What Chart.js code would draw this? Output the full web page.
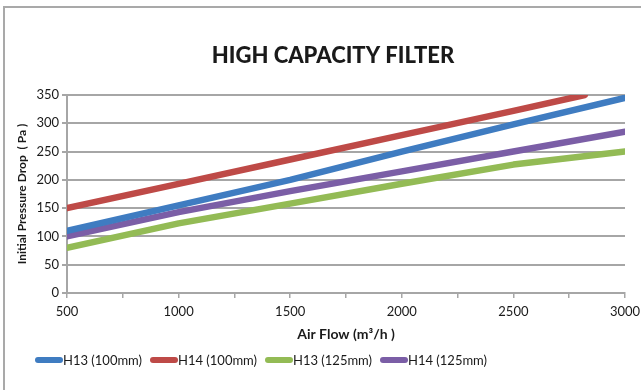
<!DOCTYPE html>
<html>
<head>
<meta charset="utf-8">
<script src="https://cdn.jsdelivr.net/npm/chart.js@4.4.1/dist/chart.umd.min.js"></script>
<style>
  html, body { margin: 0; padding: 0; background: #fff; overflow: hidden; }
  #frame { position: absolute; left: 3px; top: 6px; width: 700px; height: 500px;
           border-left: 2px solid #a9a9a9; border-top: 2px solid #a9a9a9; }
  #wrap { position: absolute; left: 0; top: 0; width: 641px; height: 390px; }
</style>
</head>
<body>
<div id="frame"></div>
<div id="wrap"><canvas id="filter-chart" width="641" height="390"></canvas></div>
<script>
// air flow (m3/h) and initial pressure drop (Pa)
const flow = [500, 1000, 1500, 2000, 2500, 3000];
const flowH14_100 = [500, 1000, 1500, 2000, 2500, 2820];
const h13_100 = [110, 155, 200, 250, 298, 345];
const h14_100 = [150, 193, 236, 279, 322, 350];
const h13_125 = [80, 123, 158, 193, 227, 250];
const h14_125 = [100, 143, 180, 215, 250, 285];
const labels = ['H13 (100mm)', 'H14 (100mm)', 'H13 (125mm)', 'H14 (125mm)'];
const yTicks = [0, 50, 100, 150, 200, 250, 300, 350];
const chartTitle = 'HIGH CAPACITY FILTER';

const font = 'Lato, "Liberation Sans", sans-serif';
Chart.defaults.font.family = font;
Chart.defaults.color = '#1a1a1a';

function pts(xs, ys) {
    return xs.map((x, i) => ({ x: x, y: ys[i] }));
}

function line(label, xs, ys, color) {
    return {
        label: label,
        data: pts(xs, ys),
        borderColor: color,
        backgroundColor: color,
        borderWidth: 6.5,
        borderCapStyle: 'round',
        borderJoinStyle: 'round',
        pointRadius: 0,
        fill: false,
        tension: 0
    };
}

// title + excel-like legend (short line, then text right after it)
const decor = {
    id: 'decor',
    afterDraw(chart) {
        const ctx = chart.ctx;
        ctx.save();
        ctx.fillStyle = '#1a1a1a';
        ctx.textAlign = 'center';
        ctx.textBaseline = 'middle';
        ctx.font = '900 22px ' + font;
        ctx.fillText(chartTitle, 333, 56);

        ctx.textAlign = 'left';
        ctx.font = '13px ' + font;
        chart.data.datasets.forEach((ds, i) => {
            const x = 35 + i * 115;
            const y = 360;
            ctx.strokeStyle = ds.borderColor;
            ctx.lineWidth = 6;
            ctx.lineCap = 'round';
            ctx.beginPath();
            ctx.moveTo(x + 3, y);
            ctx.lineTo(x + 25, y);
            ctx.stroke();
            ctx.fillStyle = '#1a1a1a';
            ctx.fillText(ds.label, x + 28, y + 1);
        });
        ctx.restore();
    }
};

const ctx = document.getElementById('filter-chart').getContext('2d');
const myChart = new Chart(ctx, {
    type: 'line',
    data: {
        datasets: [
            line(labels[0], flow, h13_100, '#3f7cc1'),
            line(labels[1], flowH14_100, h14_100, '#be4a47'),
            line(labels[2], flow, h13_125, '#93bb55'),
            line(labels[3], flow, h14_125, '#7b5ea6')
        ]
    },
    options: {
        responsive: false,
        animation: false,
        layout: { padding: { left: 10, right: 16, top: 95, bottom: 42 } },
        plugins: {
            legend: { display: false },
            tooltip: { enabled: false },
            title: { display: false }
        },
        scales: {
            x: {
                type: 'linear',
                min: 500,
                max: 3000,
                afterFit: s => {
                    s.height = 55;
                    s.paddingLeft = 0;
                    s.paddingRight = 0;
                },
                afterBuildTicks: s => {
                    s.ticks = [];
                    for (let v = 500; v <= 3000; v += 250) s.ticks.push({ value: v });
                },
                ticks: {
                    padding: 6,
                    font: { size: 13 },
                    color: '#1a1a1a',
                    maxRotation: 0,
                    autoSkip: false,
                    callback: v => (v % 500 === 0 ? v : '')
                },
                grid: {
                    drawOnChartArea: false,
                    tickLength: 5,
                    color: '#a6a6a6',
                    lineWidth: 1.5
                },
                border: { color: '#a6a6a6', width: 2 },
                title: {
                    display: true,
                    text: 'Air Flow (m³/h )',
                    font: { size: 14, weight: 'bold' },
                    color: '#1a1a1a',
                    padding: { top: 5, bottom: 5 }
                }
            },
            y: {
                min: 0,
                max: 350,
                afterFit: s => { s.width = 57; },
                afterBuildTicks: s => { s.ticks = yTicks.map(v => ({ value: v })); },
                ticks: {
                    padding: 3,
                    font: { size: 13 },
                    color: '#1a1a1a'
                },
                grid: {
                    color: '#a6a6a6',
                    lineWidth: 2,
                    tickLength: 5
                },
                border: { color: '#a6a6a6', width: 2 },
                title: {
                    display: true,
                    text: 'Initial Pressure Drop  ( Pa )',
                    font: { size: 12, weight: 'bold' },
                    color: '#1a1a1a',
                    padding: { top: 5, bottom: 0 }
                }
            }
        }
    },
    plugins: [decor]
});
</script>
</body>
</html>
